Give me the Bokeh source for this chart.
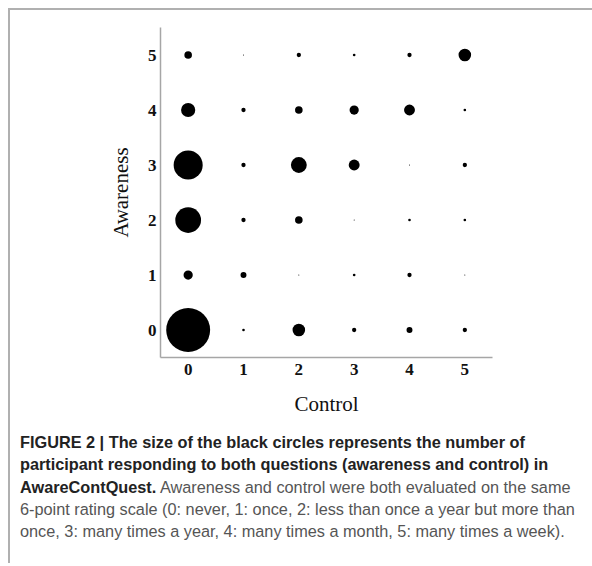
from bokeh.plotting import figure
from bokeh.models import Range1d, FixedTicker, Div, ColumnDataSource
from bokeh.layouts import column
from bokeh.embed import file_html
from bokeh.resources import INLINE

# Response categories (0..5) for both questions
control_levels = [0, 1, 2, 3, 4, 5]
awareness_levels = [0, 1, 2, 3, 4, 5]

# Number of participants per (awareness row, control column)
counts_aw0 = [26, 1, 7, 2, 3, 2]
counts_aw1 = [5, 3, 0, 1, 2, 0]
counts_aw2 = [15, 2, 4, 0, 1, 1]
counts_aw3 = [17, 2, 9, 6, 0, 2]
counts_aw4 = [8, 2, 4, 5, 6, 1]
counts_aw5 = [4, 0, 2, 1, 2, 7]
count_rows = [counts_aw0, counts_aw1, counts_aw2, counts_aw3, counts_aw4, counts_aw5]

xs, ys, ns = [], [], []
for a, row in zip(awareness_levels, count_rows):
    for c, n in zip(control_levels, row):
        xs.append(c)
        ys.append(a)
        ns.append(n)

# linear size scale: diameter (px) grows with count
sizes = [1.0 + 1.65 * n for n in ns]
src = ColumnDataSource(dict(x=xs, y=ys, n=ns, size=sizes))

FIG_W, FIG_H = 582, 421
p = figure(width=FIG_W, height=FIG_H, output_backend="svg", toolbar_location=None,
           x_range=Range1d(-0.5, 5.5), y_range=Range1d(-0.5, 5.5),
           min_border_left=150, min_border_right=FIG_W - 150 - 332,
           min_border_top=17, min_border_bottom=FIG_H - 17 - 330)
p.outline_line_color = None
p.xgrid.grid_line_color = None
p.ygrid.grid_line_color = None
p.background_fill_color = "white"
p.border_fill_color = "white"

p.scatter(x="x", y="y", size="size", source=src, marker="circle",
          fill_color="black", line_color=None)

for ax in (p.xaxis[0], p.yaxis[0]):
    ax.ticker = FixedTicker(ticks=control_levels)
    ax.axis_line_color = "#a6a6a6"
    ax.axis_line_width = 1.5
    ax.major_tick_line_color = None
    ax.minor_tick_line_color = None
    ax.major_tick_in = 0
    ax.major_tick_out = 0
    ax.minor_tick_in = 0
    ax.minor_tick_out = 0
    ax.major_label_text_font = "Liberation Serif"
    ax.major_label_text_font_style = "bold"
    ax.major_label_text_font_size = "17px"
    ax.major_label_text_color = "#111111"
    ax.axis_label_text_font = "Liberation Serif"
    ax.axis_label_text_font_style = "normal"
    ax.axis_label_text_font_size = "21px"
    ax.axis_label_text_color = "#111111"

p.xaxis[0].axis_label = "Control"
p.yaxis[0].axis_label = "Awareness"
p.xaxis[0].major_label_standoff = 6
p.yaxis[0].major_label_standoff = 4
p.xaxis[0].axis_label_standoff = 14
p.yaxis[0].axis_label_standoff = 12

caption_html = (
    '<div style="font-family:\'Liberation Sans\',Arial,sans-serif;font-size:16.3px;'
    'line-height:22.3px;color:#555555;white-space:nowrap;padding-left:10px;">'
    '<b style="color:#222222">FIGURE 2 | The size of the black circles represents the number of<br>'
    'participant responding to both questions (awareness and control) in<br>'
    'AwareContQuest.</b> Awareness and control were both evaluated on the same<br>'
    '6-point rating scale (0: never, 1: once, 2: less than once a year but more than<br>'
    'once, 3: many times a year, 4: many times a month, 5: many times a week).'
    '</div>'
)
cap = Div(text=caption_html, width=FIG_W, height=132, margin=(0, 0, 0, 0))

layout = column(p, cap, spacing=0, margin=(8, 0, 0, 8),
                styles={"border-top": "2px solid #b0b0b0", "border-left": "2px solid #b0b0b0"})

open("out.html", "w").write(file_html(layout, INLINE))
